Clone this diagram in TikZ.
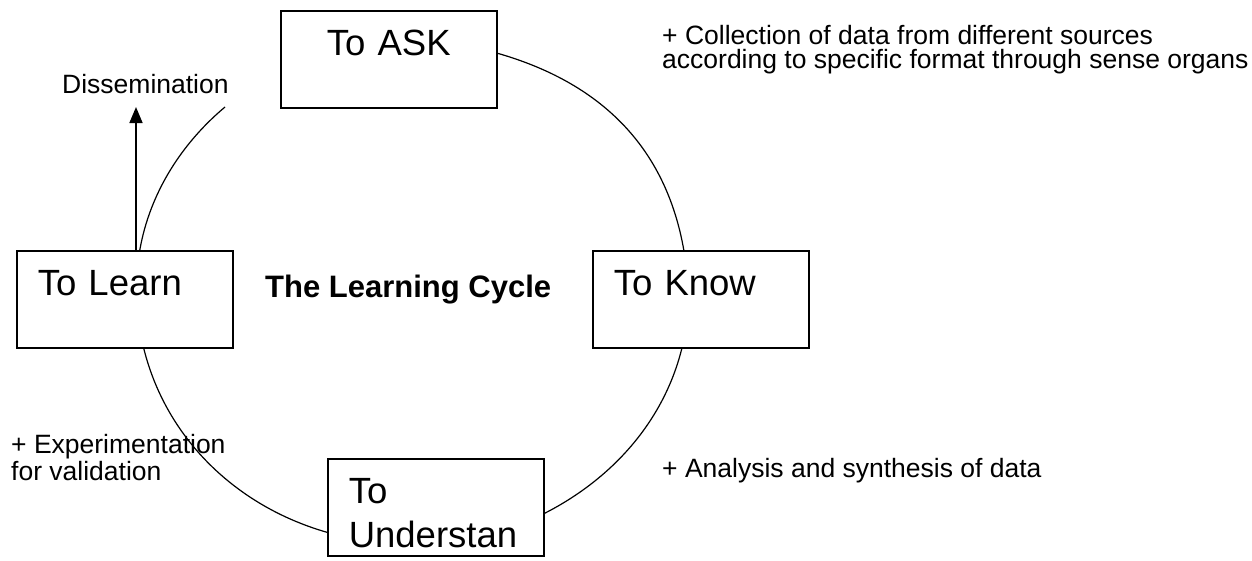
\documentclass[tikz,border=0pt]{standalone}
\usepackage{fontspec}
\setmainfont{Liberation Sans}
\usetikzlibrary{arrows.meta}

\begin{document}
\begin{tikzpicture}
[
x=1pt, y=1pt,
cycle box/.style={rectangle,draw,fill=white,line width=1.6pt,font=\fontsize{36.5}{44}\selectfont,text width=174pt,inner xsep=21pt,inner ysep=0pt,text height=45pt,text depth=52pt,align=left,anchor=north west},
cycle note/.style={font=\fontsize{26.5}{27}\selectfont,align=left,anchor=base west,inner sep=0pt},
cycle title/.style={font=\fontsize{31}{36}\selectfont\bfseries,anchor=base west,inner sep=0pt},
cycle arc/.style={line width=1.2pt},
cycle arrow/.style={line width=1.6pt,-{Triangle[length=16pt,width=13pt]}}
]

\useasboundingbox (0,0) rectangle (1252,-560);

% stages
\node[cycle box, align=center] (ask) at (280,-10) {To ASK};
\node[cycle box] (learn) at (16,-250) {To Learn};
\node[cycle box] (know) at (592,-250) {To Know};
\node[cycle box] (under) at (327,-458) {To\\Understan};

% centre
\node[cycle title] (title) at (265,-297) {The Learning Cycle};

% notes (base = last line)
\node[cycle note, font=\fontsize{26.5}{23.5}\selectfont] (N1) at (662,-68) {+ Collection of data from different sources\\according to specific format through sense organs};
\node[cycle note] (N2) at (662,-477) {+ Analysis and synthesis of data};
\node[cycle note] (N3) at (11,-480) {+ Experimentation\\for validation};
\node[cycle note] (diss) at (62,-93) {Dissemination};

% cycle arcs
\coordinate (gap) at (225,-107);
\draw[cycle arc] ([yshift=6pt]ask.east) to[out=-16,in=100] ([xshift=-17pt]know.north);
\draw[cycle arc] ([xshift=-19pt]know.south) to[out=-104,in=27,looseness=0.9] ([yshift=-6pt]under.east);
\draw[cycle arc] ([yshift=-25pt]under.west) to[out=164,in=-76,looseness=0.92] ([xshift=19pt]learn.south);
\draw[cycle arc] ([xshift=15pt]learn.north) to[out=80,in=220,looseness=0.88] (gap);

% dissemination arrow
\coordinate (tip) at (136,-107);
\draw[cycle arrow] (learn.north -| tip) -- (tip);

\end{tikzpicture}
\end{document}
